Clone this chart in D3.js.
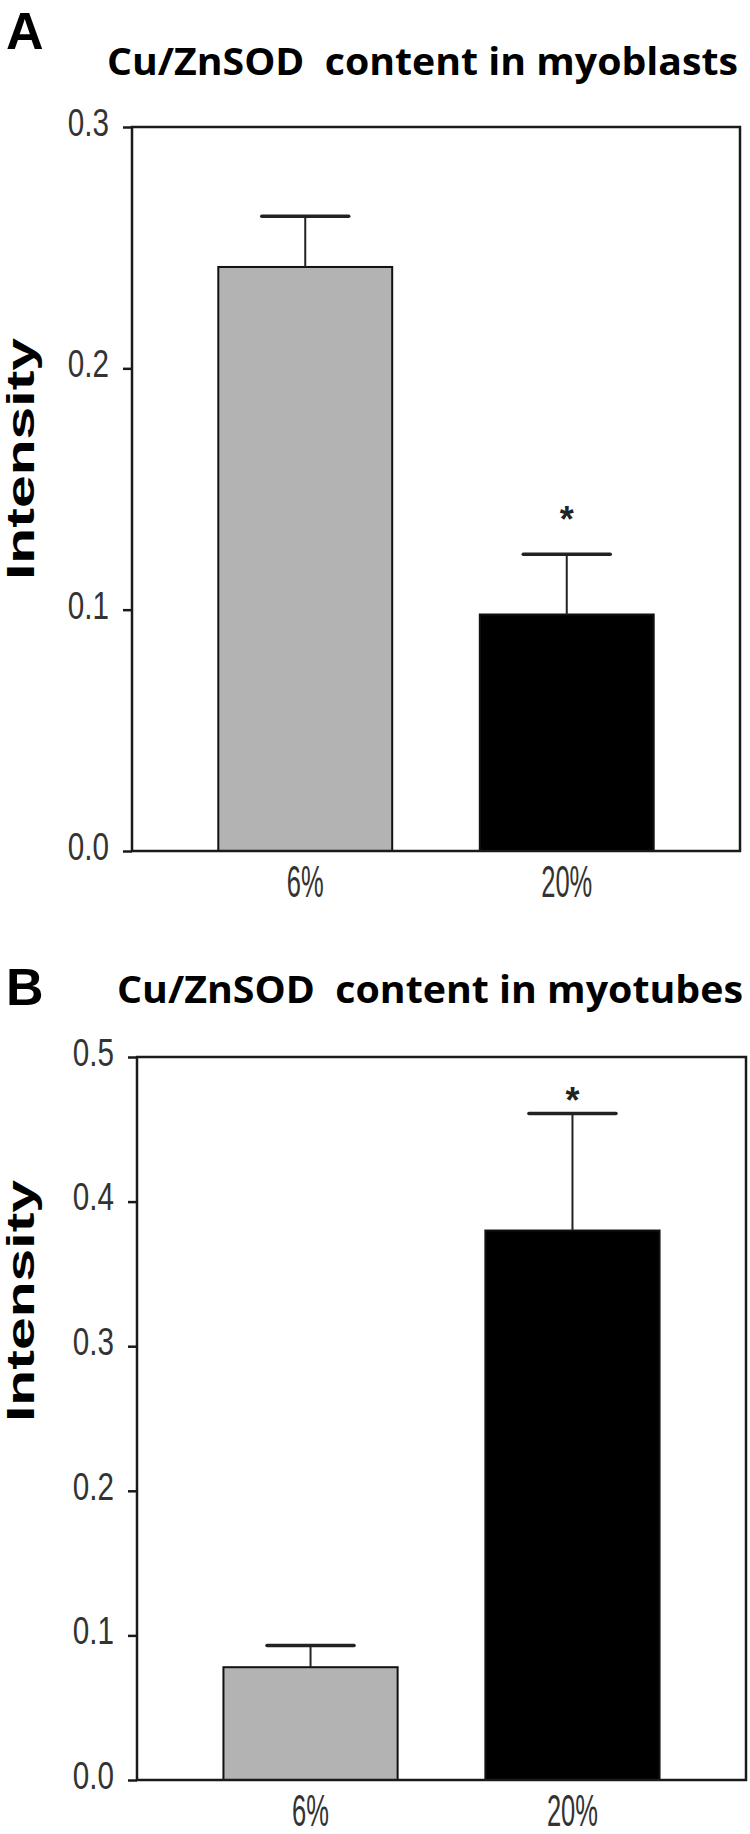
<!DOCTYPE html>
<html>
<head>
<meta charset="utf-8">
<script src="https://cdn.jsdelivr.net/npm/d3@7"></script>
<style>
  body { margin: 0; background: #fff; }
  svg { display: block; }
</style>
</head>
<body>
<svg width="750" height="1834"></svg>
<script>
// values
var groups = ["6%", "20%"];
var barColors = ["#b3b3b3", "#000000"];
var myoblastMean = [0.242, 0.098];
var myoblastSem = [0.021, 0.025];
var myotubeMean = [0.078, 0.380];
var myotubeSem = [0.015, 0.081];
var myoblastTicks = [0, 0.1, 0.2, 0.3];
var myotubeTicks = [0, 0.1, 0.2, 0.3, 0.4, 0.5];
var starred = [false, true];

var svg = d3.select("svg");

var panels = [
  { letter: "A", title: "Cu/ZnSOD  content in myoblasts", mean: myoblastMean, sem: myoblastSem,
    ticks: myoblastTicks, left: 132, right: 740, top: 127, bottom: 851,
    letterY: 49, titleX: 107, titleW: 631, titleY: 75, labelY: 459, starGap: 42 },
  { letter: "B", title: "Cu/ZnSOD  content in myotubes", mean: myotubeMean, sem: myotubeSem,
    ticks: myotubeTicks, left: 137, right: 746, top: 1057, bottom: 1780,
    letterY: 1005, titleX: 117, titleW: 626, titleY: 1003, labelY: 1301, starGap: 20 }
];

// squeeze text horizontally (the figure is stretched vertically)
function squeeze(sel, k) {
  sel.each(function() {
    var w = this.getComputedTextLength();
    d3.select(this).attr("textLength", w * k).attr("lengthAdjust", "spacingAndGlyphs");
  });
}

panels.forEach(function(p) {
  var x = d3.scaleBand().domain(groups).range([p.left, p.right])
      .paddingInner(0.335).paddingOuter(0.33);
  var y = d3.scaleLinear().domain([0, d3.max(p.ticks)]).range([p.bottom, p.top]);

  svg.append("text")
     .attr("x", 6).attr("y", p.letterY)
     .attr("font-family", "Liberation Sans, Arial, sans-serif")
     .attr("font-weight", "bold").attr("font-size", 52)
     .text(p.letter);

  svg.append("text")
     .attr("x", p.titleX).attr("y", p.titleY)
     .attr("font-family", "Open Sans, sans-serif")
     .attr("font-weight", 700).attr("font-size", 38)
     .style("white-space", "pre")
     .attr("textLength", p.titleW).attr("lengthAdjust", "spacingAndGlyphs")
     .text(p.title);

  // y axis title
  svg.append("text")
     .attr("transform", "translate(" + 34 + "," + p.labelY + ") rotate(-90)")
     .attr("text-anchor", "middle")
     .attr("font-family", "Liberation Sans, Arial, sans-serif")
     .attr("font-weight", "bold").attr("font-size", 38)
     .attr("textLength", 242).attr("lengthAdjust", "spacingAndGlyphs")
     .text("Intensity");

  // bars
  svg.selectAll(".bar" + p.letter)
     .data(p.mean)
     .enter().append("rect")
     .attr("x", function(d, i) { return x(groups[i]); })
     .attr("y", function(d) { return y(d); })
     .attr("width", x.bandwidth())
     .attr("height", function(d) { return y(0) - y(d); })
     .attr("fill", function(d, i) { return barColors[i]; })
     .attr("stroke", "#111").attr("stroke-width", 2);

  // error bars (upper only)
  var eb = svg.selectAll(".err" + p.letter)
     .data(p.mean)
     .enter().append("g");
  eb.append("line")
     .attr("x1", function(d, i) { return x(groups[i]) + x.bandwidth() / 2; })
     .attr("x2", function(d, i) { return x(groups[i]) + x.bandwidth() / 2; })
     .attr("y1", function(d) { return y(d); })
     .attr("y2", function(d, i) { return y(d + p.sem[i]); })
     .attr("stroke", "#222").attr("stroke-width", 2);
  eb.append("line")
     .attr("x1", function(d, i) { return x(groups[i]) + x.bandwidth() / 4; })
     .attr("x2", function(d, i) { return x(groups[i]) + x.bandwidth() * 3 / 4; })
     .attr("y1", function(d, i) { return y(d + p.sem[i]); })
     .attr("y2", function(d, i) { return y(d + p.sem[i]); })
     .attr("stroke", "#222").attr("stroke-width", 3.5).attr("stroke-linecap", "round");

  // significance stars
  svg.selectAll(".star" + p.letter)
     .data(p.mean.filter(function(d, i) { return starred[i]; }))
     .enter().append("text")
     .attr("x", function() { return x(groups[1]) + x.bandwidth() / 2; })
     .attr("y", function(d) { return y(d + p.sem[1]) - p.starGap + 20; })
     .attr("text-anchor", "middle")
     .attr("font-family", "Liberation Sans, Arial, sans-serif")
     .attr("font-weight", "bold").attr("font-size", 36)
     .attr("fill", "#222")
     .text("*");

  // frame
  svg.append("rect")
     .attr("x", p.left).attr("y", p.top)
     .attr("width", p.right - p.left).attr("height", p.bottom - p.top)
     .attr("fill", "none").attr("stroke", "#1a1a1a").attr("stroke-width", 2.5);

  var yAxis = svg.append("g")
     .attr("transform", "translate(" + p.left + ",0)")
     .call(d3.axisLeft(y).tickValues(p.ticks).tickSize(9).tickSizeOuter(0)
           .tickPadding(14).tickFormat(d3.format(".1f")));
  yAxis.select(".domain").remove();
  yAxis.selectAll("line").attr("stroke", "#1a1a1a").attr("stroke-width", 2.5);
  yAxis.selectAll("text")
     .attr("font-family", "Liberation Sans, Arial, sans-serif")
     .attr("font-size", 38).attr("fill", "#333").attr("dy", "0.22em");
  squeeze(yAxis.selectAll("text"), 0.78);

  var xAxis = svg.append("g")
     .attr("transform", "translate(0," + p.bottom + ")")
     .call(d3.axisBottom(x).tickSize(0).tickPadding(15));
  xAxis.select(".domain").remove();
  xAxis.selectAll("text")
     .attr("font-family", "Liberation Sans, Arial, sans-serif")
     .attr("font-size", 44).attr("fill", "#333").attr("dy", "0.71em");
  squeeze(xAxis.selectAll("text"), 0.58);
});
</script>
</body>
</html>
